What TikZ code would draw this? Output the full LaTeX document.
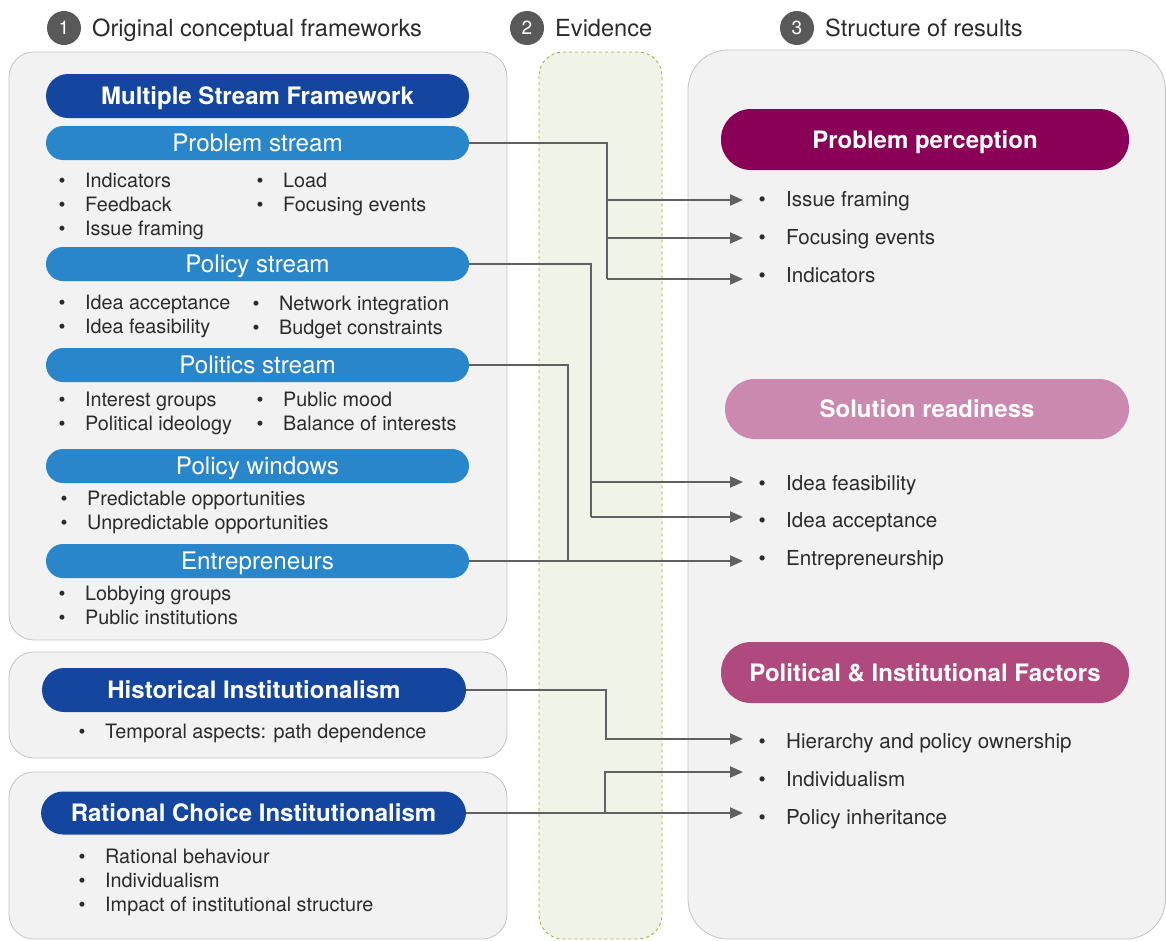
\documentclass[tikz,border=0pt]{standalone}
\usepackage{fontspec}
\setmainfont{TeX Gyre Heros}
\usetikzlibrary{arrows.meta,positioning,calc}
\definecolor{dblue}{HTML}{1446A0}
\definecolor{mblue}{HTML}{2986CA}
\definecolor{pperc}{HTML}{8B0057}
\definecolor{sread}{HTML}{CB89B0}
\definecolor{pifac}{HTML}{B04A7E}
\definecolor{circ}{HTML}{595959}
\definecolor{panelf}{HTML}{F2F2F2}
\definecolor{paneld}{HTML}{C4C4C4}
\definecolor{evif}{HTML}{F0F4E8}
\definecolor{evid}{HTML}{9DB02A}
\definecolor{conn}{HTML}{606060}
\definecolor{txt}{HTML}{2B2B2B}
\tikzset{
  panel/.style={fill=panelf,draw=paneld,line width=0.8pt},
  numcirc/.style={circle,fill=circ,minimum size=34pt,inner sep=0pt,text=white,font=\fontsize{19}{22}\selectfont},
  headtxt/.style={anchor=west,inner sep=0pt,text=txt,text height=16.8pt,text depth=0pt,font=\fontsize{23.6}{26}\selectfont},
  darkpill/.style={rectangle,rounded corners=22pt,fill=dblue,text=white,inner sep=0pt,text height=17.3pt,text depth=0pt,font=\fontsize{24}{26}\selectfont\bfseries},
  streampill/.style={rectangle,rounded corners=17pt,fill=mblue,text=white,inner sep=0pt,minimum width=423pt,minimum height=34pt,text height=17.3pt,text depth=0pt,font=\fontsize{24.2}{26}\selectfont},
  respill/.style={rectangle,rounded corners=30pt,text=white,inner sep=0pt,minimum height=61pt,text height=17.3pt,text depth=0pt,font=\fontsize{24}{26}\selectfont\bfseries},
  item/.style={anchor=west,inner sep=0pt,text=txt,text height=15pt,text depth=3pt,font=\fontsize{19.8}{24}\selectfont},
  ritem/.style={item,font=\fontsize{20.6}{24}\selectfont},
  conline/.style={draw=conn,line width=2pt},
  conarrow/.style={draw=conn,line width=2pt,-{Triangle[length=13pt,width=11pt]}},
}
\newcommand{\bitem}[4]{\node[item] (#1) at (#2,#3) {\makebox[23pt][l]{\hspace{-3.5pt}\textbullet}#4};}
\newcommand{\ritem}[4]{\node[ritem] (#1) at (#2,#3) {\makebox[24pt][l]{\hspace{-3.5pt}\textbullet}#4};}
\begin{document}
\begin{tikzpicture}[x=1pt,y=-1pt]
\useasboundingbox (0,0) rectangle (1166,940);
% headers
\node[numcirc] (c1) at (64,28) {1};
\node[headtxt] (h1) at (92,28) {Original conceptual frameworks};
\node[numcirc] (c2) at (527,28) {2};
\node[headtxt] (h2) at (555,28) {Evidence};
\node[numcirc] (c3) at (797,28) {3};
\node[headtxt] (h3) at (825,28) {Structure of results};
% panels
\draw[panel,rounded corners=25pt] (9,52) rectangle (507,640);
\draw[panel,rounded corners=25pt] (9,652) rectangle (507,758);
\draw[panel,rounded corners=25pt] (9,772) rectangle (507,939);
\draw[fill=evif,draw=evid,dashed,line width=0.8pt,rounded corners=24pt] (539,52) rectangle (662,939);
\draw[panel,rounded corners=40pt] (688,50) rectangle (1165.5,939);
% left column
\node[darkpill,minimum width=423pt,minimum height=44pt] (msf) at (257.5,96) {Multiple Stream Framework};
\node[streampill] (ps) at (257.5,143) {Problem stream};
\bitem{ps1}{62}{181}{Indicators}
\bitem{ps2}{62}{205}{Feedback}
\bitem{ps3}{62}{229}{Issue framing}
\bitem{ps4}{260}{181}{Load}
\bitem{ps5}{260}{205}{Focusing events}
\node[streampill] (pol) at (257.5,264) {Policy stream};
\bitem{pol1}{62}{303}{Idea acceptance}
\bitem{pol2}{62}{327}{Idea feasibility}
\bitem{pol3}{256}{304}{Network integration}
\bitem{pol4}{256}{328}{Budget constraints}
\node[streampill] (pts) at (257.5,365) {Politics stream};
\bitem{pts1}{62}{400}{Interest groups}
\bitem{pts2}{62}{424}{Political ideology}
\bitem{pts3}{260}{400}{Public mood}
\bitem{pts4}{260}{424}{Balance of interests}
\node[streampill] (pw) at (257.5,466) {Policy windows};
\bitem{pw1}{64}{499}{Predictable opportunities}
\bitem{pw2}{64}{523}{Unpredictable opportunities}
\node[streampill] (ent) at (257.5,561) {Entrepreneurs};
\bitem{ent1}{62}{594}{Lobbying groups}
\bitem{ent2}{62}{618}{Public institutions}
\node[darkpill,minimum width=424pt,minimum height=44pt] (hi) at (254,690) {Historical Institutionalism};
\bitem{hi1}{82}{732}{Temporal aspects: path dependence}
\node[darkpill,minimum width=425pt,minimum height=43pt] (rci) at (253.5,813) {Rational Choice Institutionalism};
\bitem{rci1}{82}{857}{Rational behaviour}
\bitem{rci2}{82}{881}{Individualism}
\bitem{rci3}{82}{905}{Impact of institutional structure}
% right column
\node[respill,fill=pperc,minimum width=408pt] (pp) at (925,139.5) {Problem perception};
\ritem{pp1}{762}{200}{Issue framing}
\ritem{pp2}{762}{238}{Focusing events}
\ritem{pp3}{762}{276}{Indicators}
\node[respill,fill=sread,minimum width=404pt,minimum height=60pt] (sr) at (927,409) {Solution readiness};
\ritem{sr1}{762}{484}{Idea feasibility}
\ritem{sr2}{762}{521}{Idea acceptance}
\ritem{sr3}{762}{559}{Entrepreneurship}
\node[respill,fill=pifac,minimum width=408pt] (pf) at (925,672.5) {Political \& Institutional Factors};
\ritem{pf1}{762}{742}{Hierarchy and policy ownership}
\ritem{pf2}{762}{780}{Individualism}
\ritem{pf3}{762}{818}{Policy inheritance}
% connectors
\coordinate (t1) at (607,0);
\coordinate (t2) at (591,0);
\coordinate (t3) at (568,0);
\coordinate (t4) at (606,0);
\coordinate (t5) at (605,0);
\draw[conarrow] (t1 |- pp1.west) -- ([xshift=-19pt]pp1.west);
\draw[conarrow] (t1 |- pp2.west) -- ([xshift=-19pt]pp2.west);
\draw[conarrow] ([yshift=-3pt]t1 |- pp3.west) -- ([xshift=-19pt,yshift=-3pt]pp3.west);
\draw[conline] (ps.east) -| ([yshift=-3pt]t1 |- pp3.west);
\draw[conline] (pol.east) -| ([yshift=4pt]t2 |- sr2.west);
\draw[conarrow] ([yshift=2pt]t2 |- sr1.west) -- ([xshift=-19pt,yshift=2pt]sr1.west);
\draw[conarrow] ([yshift=4pt]t2 |- sr2.west) -- ([xshift=-19pt,yshift=4pt]sr2.west);
\draw[conline] (pts.east) -| (t3 |- ent.east);
\draw[conarrow] (ent.east) -- ([xshift=-19pt]ent.east -| sr3.west);
\draw[conarrow] (hi.east) -| ([yshift=3pt]t4 |- pf1.west) -- ([xshift=-19pt,yshift=3pt]pf1.west);
\draw[conarrow] (rci.east) -- ([xshift=-19pt]rci.east -| pf3.west);
\draw[conarrow] (t5 |- rci.east) |- ([xshift=-19pt,yshift=8pt]pf2.west);
\end{tikzpicture}
\end{document}
